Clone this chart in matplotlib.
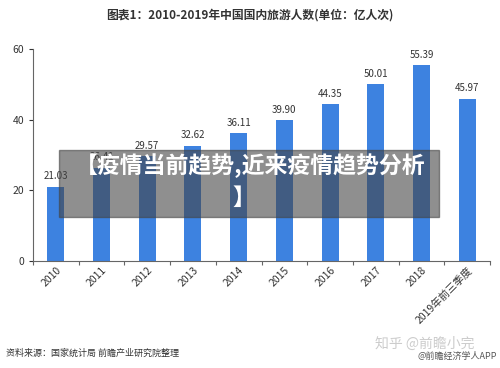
import numpy as np
import matplotlib.pyplot as plt
from matplotlib.patches import Rectangle

plt.rcParams['font.family'] = ['Noto Sans CJK SC', 'DejaVu Sans']

# Data
years = ['2010', '2011', '2012', '2013', '2014', '2015', '2016', '2017', '2018', '2019年前三季度']
visitors = [21.03, 26.41, 29.57, 32.62, 36.11, 39.90, 44.35, 50.01, 55.39, 45.97]
yticks = [0, 20, 40, 60]

fig = plt.figure(figsize=(5, 3.68), dpi=100)
ax = fig.add_axes([0.066, 0.291, 0.914, 0.576])

x = np.arange(len(years))
ax.bar(x, visitors, width=0.37, color='#3d82e0')
for xi, v in zip(x, visitors):
    ax.text(xi, v + 1.5, f'{v:.2f}', ha='center', va='bottom', fontsize=7, color='#333333')

ax.set_xlim(-0.5, len(years) - 0.5)
ax.set_ylim(0, 60)
ax.set_yticks(yticks)
ax.tick_params(axis='y', labelsize=7.5, colors='#333333', length=3)
ax.set_xticks(np.arange(len(years) + 1) - 0.5)
ax.set_xticklabels([])
ax.tick_params(axis='x', length=3, color='#666666')
ax.set_xticks(x, minor=True)
ax.set_xticklabels(years, minor=True, rotation=45, ha='right', rotation_mode='anchor',
                   fontsize=7.5, color='#333333')
ax.tick_params(axis='x', which='minor', length=0, pad=3)
for s in ['top', 'right']:
    ax.spines[s].set_visible(False)
for s in ['left', 'bottom']:
    ax.spines[s].set_color('#666666')

fig.text(0.5, 0.958, '图表1：2010-2019年中国国内旅游人数(单位：亿人次)', ha='center', va='center',
         fontsize=8.5, fontweight='bold', color='#333333')

# overlay banner
fig.patches.append(Rectangle((0.118, 1 - 217 / 368), 0.76, 67 / 368, transform=fig.transFigure,
                             color='#444444', alpha=0.6, zorder=5))
fig.text(0.5, 1 - 166 / 368, '【疫情当前趋势,近来疫情趋势分析', ha='center', va='center',
         fontsize=16.5, fontweight='bold', color='white', zorder=6)
fig.text(0.487, 1 - 198 / 368, '】', ha='center', va='center',
         fontsize=16.5, fontweight='bold', color='white', zorder=6)

fig.text(0.012, 1 - 353 / 368, '资料来源：国家统计局 前瞻产业研究院整理', ha='left', va='center',
         fontsize=6.5, color='#333333')
fig.text(0.75, 1 - 344 / 368, '知乎 @前瞻小完', ha='left', va='center',
         fontsize=10, color='#cccccc')
fig.text(0.995, 1 - 356 / 368, '@前瞻经济学人APP', ha='right', va='center',
         fontsize=6.5, color='#555555')

fig.savefig('out.png', dpi=100)
